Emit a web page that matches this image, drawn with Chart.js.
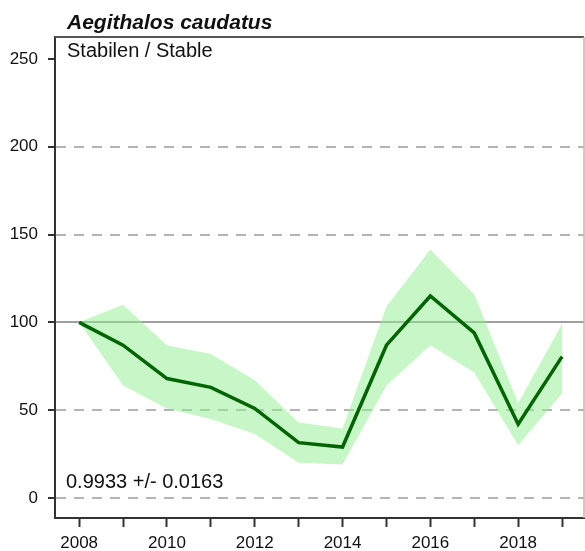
<!DOCTYPE html>
<html>
<head>
<meta charset="utf-8">
<script src="https://cdn.jsdelivr.net/npm/chart.js@4/dist/chart.umd.min.js"></script>
<style>
  body { margin: 0; background: #fff; }
  canvas { display: block; }
</style>
</head>
<body>
<canvas id="trendChart" width="585" height="551"></canvas>
<script>
const years = [2008, 2009, 2010, 2011, 2012, 2013, 2014, 2015, 2016, 2017, 2018, 2019];
const index = [100, 87, 68, 63, 51, 31.5, 29, 87, 115, 94, 42, 80.5];
const upper = [100, 110, 87, 82, 67, 43, 39.5, 109, 141.5, 116, 54, 99];
const lower = [100, 64, 51, 45, 36.5, 20, 19, 64, 87, 71.5, 30, 59.5];
const yTicks = [0, 50, 100, 150, 200, 250];

const speciesName = "Aegithalos caudatus";
const trendLabel = "Stabilen / Stable";
const slopeLabel = "0.9933 +/- 0.0163";

const font = "'Liberation Sans', Arial, sans-serif";

function toPoints(values) {
    return years.map((year, i) => ({ x: year, y: values[i] }));
}

// title, texts and the top/right frame lines
const overlay = {
    id: 'overlay',
    afterDraw(chart) {
        const ctx = chart.ctx;
        const area = chart.chartArea;
        ctx.save();
        ctx.strokeStyle = '#555';
        ctx.lineWidth = 2;
        ctx.beginPath();
        ctx.moveTo(area.left, area.top);
        ctx.lineTo(area.right, area.top);
        ctx.stroke();
        ctx.strokeStyle = '#bbb';
        ctx.lineWidth = 1.5;
        ctx.beginPath();
        ctx.moveTo(area.right, area.top);
        ctx.lineTo(area.right, area.bottom);
        ctx.stroke();

        ctx.fillStyle = '#111';
        ctx.textAlign = 'left';
        ctx.textBaseline = 'alphabetic';
        ctx.font = "italic bold 21px " + font;
        ctx.fillText(speciesName, 67, 29);
        ctx.font = "20px " + font;
        ctx.fillText(trendLabel, 67, 57);
        ctx.fillText(slopeLabel, 66, 488);
        ctx.restore();
    }
};

new Chart(document.getElementById('trendChart').getContext('2d'), {
    type: 'line',
    data: {
        datasets: [
            {
                data: toPoints(lower),
                borderWidth: 0,
                pointRadius: 0,
                fill: false,
                order: 2
            },
            {
                data: toPoints(upper),
                borderWidth: 0,
                pointRadius: 0,
                backgroundColor: 'rgba(144, 238, 144, 0.5)',
                fill: '-1',
                order: 1
            },
            {
                data: toPoints(index),
                borderColor: '#006400',
                borderWidth: 3.5,
                pointRadius: 0,
                fill: false,
                order: 0
            }
        ]
    },
    options: {
        responsive: false,
        animation: false,
        layout: { padding: { top: 37, right: 1, left: 0, bottom: 0 } },
        plugins: {
            legend: { display: false },
            tooltip: { enabled: false }
        },
        scales: {
            x: {
                type: 'linear',
                min: 2007.45,
                max: 2019.5,
                afterBuildTicks: scale => { scale.ticks = years.map(v => ({ value: v })); },
                afterFit: scale => { scale.height = 33; },
                ticks: {
                    color: '#111',
                    font: { family: font, size: 17 },
                    padding: 6,
                    maxRotation: 0,
                    autoSkip: false,
                    callback: v => (v % 2 === 0 ? String(v) : '')
                },
                grid: {
                    drawOnChartArea: false,
                    tickLength: 9,
                    tickColor: '#333',
                    tickWidth: 2
                },
                border: { color: '#333', width: 2 }
            },
            y: {
                min: -11.4,
                max: 262.5,
                afterBuildTicks: scale => { scale.ticks = yTicks.map(v => ({ value: v })); },
                afterFit: scale => { scale.width = 55; },
                ticks: {
                    color: '#111',
                    font: { family: font, size: 17 },
                    padding: 10
                },
                grid: {
                    color: ctx => {
                        const v = ctx.tick ? ctx.tick.value : null;
                        if (v === 250) return 'rgba(0,0,0,0)';
                        if (v === 100) return '#a0a0a0';
                        return '#b4b4b4';
                    },
                    lineWidth: 2,
                    tickLength: 7,
                    tickColor: '#333',
                    tickWidth: 2,
                    tickBorderDash: []
                },
                border: {
                    color: '#333',
                    width: 2,
                    dash: ctx => (ctx.tick && ctx.tick.value === 100 ? [] : [10, 8])
                }
            }
        }
    },
    plugins: [overlay]
});
</script>
</body>
</html>
